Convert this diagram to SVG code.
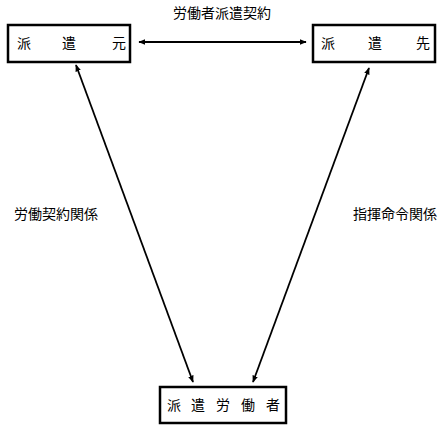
<svg xmlns="http://www.w3.org/2000/svg" width="442" height="433" viewBox="0 0 442 433">
<style>
.box{fill:#fff;stroke:#000;stroke-width:2.5}
.t{font-family:"Noto Sans CJK JP","Noto Sans CJK SC",sans-serif;font-size:14px;fill:#000}
.c{stroke:#000;stroke-width:1.8;fill:none}
</style>
<defs>
<marker id="ah" viewBox="0 0 10 10" refX="9" refY="5" markerWidth="7" markerHeight="7" markerUnits="userSpaceOnUse" orient="auto-start-reverse">
<path d="M0,1 L10,5 L0,9 z" fill="#000"/>
</marker>
</defs>
<rect width="442" height="433" fill="#fff"/>
<g id="connectors">
<line class="c" x1="139" y1="42" x2="306" y2="42" marker-start="url(#ah)" marker-end="url(#ah)"/>
<line class="c" x1="76" y1="65" x2="193" y2="382" marker-start="url(#ah)" marker-end="url(#ah)"/>
<line class="c" x1="369" y1="68" x2="253" y2="382" marker-start="url(#ah)" marker-end="url(#ah)"/>
</g>
<g id="label-top"><text class="t" x="222" y="18" text-anchor="middle">労働者派遣契約</text></g>
<g id="label-left"><text class="t" x="14" y="219">労働契約関係</text></g>
<g id="label-right"><text class="t" x="353" y="219">指揮命令関係</text></g>
<g id="node-haken-moto">
<rect class="box" x="8" y="25" width="122" height="37"/>
<text class="t" x="17" y="48">派</text>
<text class="t" x="62" y="48">遣</text>
<text class="t" x="112" y="48">元</text>
</g>
<g id="node-haken-saki">
<rect class="box" x="313" y="25" width="122" height="37"/>
<text class="t" x="321" y="48">派</text>
<text class="t" x="368" y="48">遣</text>
<text class="t" x="416" y="48">先</text>
</g>
<g id="node-worker">
<rect class="box" x="160" y="387" width="126" height="36"/>
<text class="t" x="167" y="410">派</text>
<text class="t" x="191" y="410">遣</text>
<text class="t" x="216" y="410">労</text>
<text class="t" x="241" y="410">働</text>
<text class="t" x="266" y="410">者</text>
</g>
</svg>
